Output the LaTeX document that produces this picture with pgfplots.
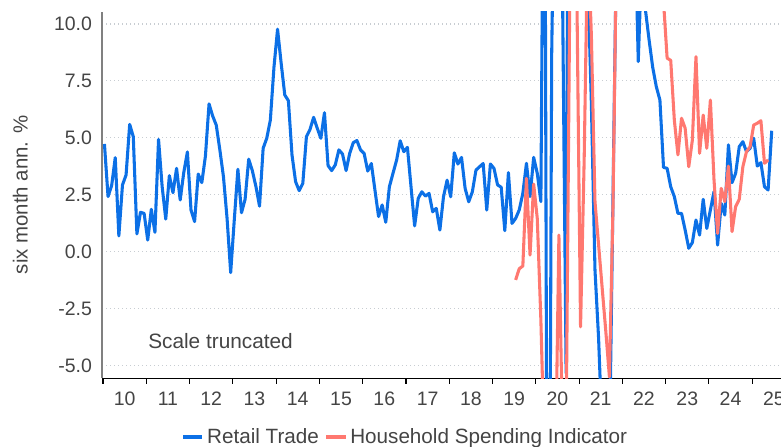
\documentclass[border=0pt]{standalone}
\usepackage{fontspec}
\setmainfont{Liberation Sans}
\usepackage{pgfplots}
\usepackage{pgfplotstable}
\pgfplotsset{compat=1.18}
\definecolor{rtblue}{RGB}{12,112,230}
\definecolor{hsired}{RGB}{255,120,112}
\definecolor{txt}{RGB}{68,68,68}
\definecolor{gridc}{RGB}{200,205,210}

\pgfplotstableread{
i v
0 4.73
1 2.42
2 2.90
3 4.13
4 0.69
5 2.93
6 3.37
7 5.59
8 5.05
9 0.78
10 1.73
11 1.68
12 0.51
13 1.86
14 0.85
15 4.93
16 2.86
17 1.43
18 3.34
19 2.59
20 3.66
21 2.27
22 3.48
23 4.38
24 1.83
25 1.32
26 3.41
27 3.03
28 4.20
29 6.49
30 5.96
31 5.56
32 4.47
33 3.29
34 1.46
35 -0.92
36 1.40
37 3.62
38 1.71
39 2.30
40 4.06
41 3.56
42 2.86
43 2.00
44 4.54
45 4.98
46 5.78
47 8.10
48 9.77
49 8.27
50 6.88
51 6.63
52 4.25
53 3.07
54 2.68
55 3.00
56 5.05
57 5.37
58 5.90
59 5.42
60 4.98
61 6.10
62 3.78
63 3.56
64 3.81
65 4.47
66 4.29
67 3.56
68 4.32
69 4.79
70 4.88
71 4.47
72 4.31
73 3.54
74 3.87
75 2.70
76 1.54
77 2.05
78 1.29
79 2.85
80 3.44
81 4.02
82 4.87
83 4.39
84 4.58
85 2.85
86 1.13
87 2.34
88 2.63
89 2.44
90 2.56
91 1.75
92 1.90
93 0.95
94 2.41
95 3.14
96 2.41
97 4.34
98 3.85
99 4.14
100 2.78
101 2.19
102 2.63
103 3.58
104 3.73
105 3.87
106 1.83
107 3.85
108 3.66
109 2.93
110 2.83
111 0.92
112 3.47
113 1.24
114 1.46
115 1.83
116 2.56
117 3.88
118 2.42
119 4.14
120 3.44
121 2.20
122 25
123 -30
124 8.7
125 20
126 25
127 11.5
128 -5.34
129 40
130 25
131 20
132 15
133 15
134 12
135 6.5
136 -0.8
137 -3.8
138 -8
139 -10
140 -9
141 2.5
142 14
143 20
144 25
145 25
146 20
147 15
148 8.35
149 13
150 10.6
151 9.3
152 8.1
153 7.25
154 6.66
155 3.70
156 3.66
157 2.85
158 2.42
159 1.68
160 1.68
161 0.95
162 0.15
163 0.40
164 1.39
165 0.73
166 2.30
167 1.02
168 1.83
169 2.64
170 0.29
171 2.12
172 1.61
173 4.69
174 3.03
175 3.44
176 4.61
177 4.83
178 4.39
179 4.54
180 4.98
181 3.76
182 3.91
183 2.85
184 2.71
185 5.31
}\retail

\pgfplotstableread{
i v
114 -1.24
115 -0.75
116 -0.63
117 3.22
118 -0.15
119 2.97
120 1.46
121 -3.0
122 -9
123 -15
124 -15
125 -10
126 0.73
127 -8
128 -8
129 11
130 18
131 11
132 -3.3
133 4
134 14
135 9.5
136 2.2
137 0.3
138 -1.6
139 -3.5
140 -5.5
141 2
142 14
143 20
144 22
145 24
146 25
147 24
148 22
149 20
150 18
151 16
152 15
153 14
154 13
155 11
156 8.5
157 8.4
158 5.78
159 4.25
160 5.86
161 5.42
162 3.73
163 4.90
164 8.56
165 4.32
166 6.00
167 4.54
168 6.66
169 3.15
170 0.80
171 2.78
172 2.20
173 3.76
174 0.88
175 1.98
176 2.30
177 3.73
178 4.39
179 4.61
180 5.56
181 5.64
182 5.75
183 3.88
184 4.03
}\hsi

\begin{document}
\begin{tikzpicture}
\begin{axis}[
  scale only axis,
  width=513pt, height=274.95pt,
  xmin=2009.977, xmax=2025.78,
  ymin=-5.56, ymax=10.54,
  axis x line*=bottom,
  axis y line*=left,
  x axis line style={black, line width=0.9pt},
  y axis line style={black!50, line width=1.3pt},
  ytick={-5,-2.5,0,2.5,5,7.5,10},
  yticklabel style={/pgf/number format/fixed, /pgf/number format/fixed zerofill, /pgf/number format/precision=1},
  /pgf/number format/assume math mode=true,
  xtick={2010.5,2011.5,...,2025.5},
  xticklabels={10,11,12,13,14,15,16,17,18,19,20,21,22,23,24,25},
  minor xtick={2010,2011,...,2025},
  major tick length=0pt,
  minor tick length=4pt,
  tick align=outside,
  minor tick style={black, line width=0.8pt},
  ymajorgrids,
  major grid style={gridc, line width=0.9pt, dash pattern=on 1pt off 2pt},
  tick label style={font=\fontsize{14.6}{17}\selectfont, text=txt},
  xticklabel style={yshift=-6.8pt},
  yticklabel style={xshift=-4pt},
  ylabel={six month ann. \%},
  ylabel style={font=\fontsize{15.3}{18}\selectfont, text=txt, at={(axis description cs:-0.1195,0.5)}, anchor=center},
  legend style={at={(axis description cs:0.4437,-0.160)}, anchor=center, draw=none, fill=none,
    font=\fontsize{15.5}{19}\selectfont, text=txt, legend columns=2,
    /tikz/every even column/.append style={column sep=2pt}},
  legend image code/.code={\draw[#1, line width=3pt] (0pt,0pt) -- (14.5pt,0pt);},
  clip=true,
]
\addplot[rtblue, line width=2.3pt, line join=round] table[x expr=2010+(\thisrow{i}+0.4)/12, y=v] {\retail};
\addlegendentry{Retail Trade}
\addplot[hsired, line width=2.3pt, line join=round] table[x expr=2010+(\thisrow{i}+0.4)/12, y=v] {\hsi};
\addlegendentry{Household Spending Indicator}
\node[anchor=west, inner sep=0pt, font=\fontsize{15.6}{18}\selectfont, text=txt] at (axis cs:2011.04,-3.92) {Scale truncated};
\end{axis}
\pgfresetboundingbox
\path[use as bounding box] (-76.5pt,-51.5pt) rectangle (509.25pt,283.7pt);
\end{tikzpicture}
\end{document}
